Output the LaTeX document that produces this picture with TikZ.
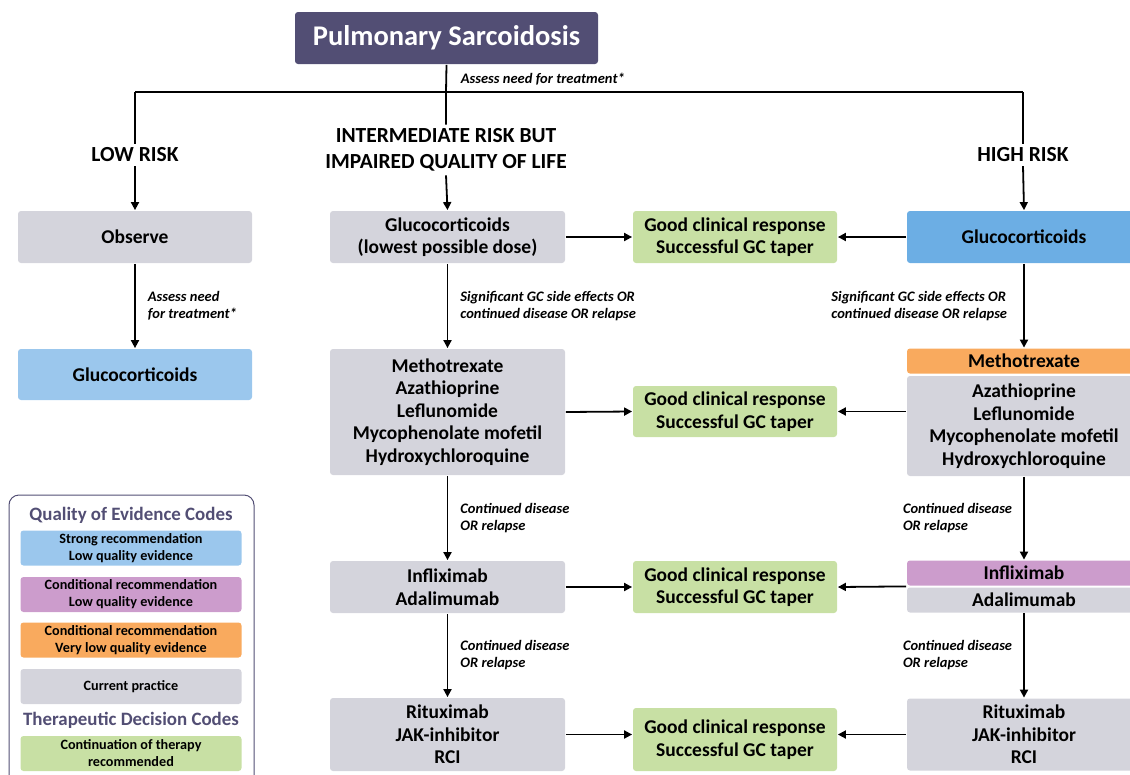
\documentclass[tikz,border=0pt]{standalone}
\usepackage{fontspec}
\setmainfont{Carlito}
\usepackage{tikz}
\usetikzlibrary{positioning}
\usetikzlibrary{arrows.meta}
\definecolor{Plum}{RGB}{82,78,116}
\definecolor{Grey}{RGB}{212,212,220}
\definecolor{Green}{RGB}{200,224,164}
\definecolor{BlueHi}{RGB}{108,174,228}
\definecolor{BlueLo}{RGB}{155,199,237}
\definecolor{Orange}{RGB}{249,170,94}
\definecolor{Purple}{RGB}{204,156,204}
\def \boxfont{\bfseries\fontsize{19.5}{22.5}\selectfont}
\def \labfont{\bfseries\itshape\fontsize{14.5}{17}\selectfont}
\def \legfont{\bfseries\fontsize{14.2}{17}\selectfont}
\tikzset{
every picture/.style={line width=1.8pt},
greybox/.style={rectangle, rounded corners=3pt, fill=Grey, minimum width=235pt, minimum height=52pt, align=center, font=\boxfont, inner sep=0pt},
goodbox/.style={greybox, fill=Green, minimum width=204pt},
riskhead/.style={align=center, font=\bfseries\fontsize{21.5}{26}\selectfont, inner sep=3pt},
lab/.style={align=left, font=\labfont, inner sep=0pt},
legbox/.style={rectangle, rounded corners=3pt, minimum width=221pt, minimum height=35pt, align=center, font=\legfont, inner sep=0pt},
legtitle/.style={text=Plum, font=\bfseries\fontsize{18.9}{20}\selectfont, inner sep=0pt},
arr/.style={-{Triangle[length=8pt,width=8pt]}}
}

\begin{document}
\begin{tikzpicture}[x=1pt, y=-1pt]
\useasboundingbox (0,0) rectangle (1130,774);
%Nodes
\node [rectangle, rounded corners=3pt, fill=Plum, text=white, font=\bfseries\fontsize{28.5}{30}\selectfont, minimum width=303pt, minimum height=52pt] (PS) at (446.5,38) {Pulmonary Sarcoidosis};
\coordinate (split) at (446,92);
\coordinate (lowc) at (135,92);
\coordinate (highc) at (1023,92);
\node [lab, anchor=south west] (assess) at (460,86) {Assess need for treatment*};
\node [riskhead] (low) at (135,155) {LOW RISK};
\node [riskhead] (mid) at (446,150) {INTERMEDIATE RISK BUT\\IMPAIRED QUALITY OF LIFE};
\node [riskhead] (high) at (1023,155) {HIGH RISK};

\node [greybox, minimum width=234pt] (observe) at (135,237) {Observe};
\node [greybox, fill=BlueLo, minimum width=234pt, minimum height=51pt] (lowGC) at (135,374.5) {Glucocorticoids};

\node [greybox] (midGC) at (447.5,237) {Glucocorticoids\\(lowest possible dose)};
\node [greybox, minimum height=126pt] (midDM) at (447.5,412) {Methotrexate\\Azathioprine\\Leflunomide\\Mycophenolate mofetil\\Hydroxychloroquine};
\node [greybox] (midTNF) at (447.5,587) {Infliximab\\Adalimumab};
\node [greybox, minimum height=73pt] (midRTX) at (447.5,734.5) {Rituximab\\JAK-inhibitor\\RCI};

\node [goodbox] (good1) at (735,237) {Good clinical response\\Successful GC taper};
\node [goodbox, minimum height=51pt] (good2) at (735,411.5) {Good clinical response\\Successful GC taper};
\node [goodbox] (good3) at (735,587) {Good clinical response\\Successful GC taper};
\node [goodbox, minimum height=63pt] (good4) at (735,739.5) {Good clinical response\\Successful GC taper};

\node [greybox, fill=BlueHi, minimum width=234pt] (highGC) at (1024,237) {Glucocorticoids};
\node [greybox, fill=Orange, minimum width=234pt, minimum height=25pt] (highMTX) at (1024,361) {Methotrexate};
\node [greybox, minimum width=234pt, minimum height=100pt] (highDM) at (1024,426) {Azathioprine\\Leflunomide\\Mycophenolate mofetil\\Hydroxychloroquine};
\node [greybox, fill=Purple, minimum width=234pt, minimum height=25pt] (highIFX) at (1024,573) {Infliximab};
\node [greybox, minimum width=234pt, minimum height=25pt] (highADA) at (1024,600) {Adalimumab};
\node [greybox, minimum width=234pt, minimum height=72pt] (highRTX) at (1024,734.5) {Rituximab\\JAK-inhibitor\\RCI};

%Legend
\draw [Plum, line width=1pt, rounded corners=10pt] (9,495) rectangle (254,790);
\node [legtitle] (qual) at (131,515) {Quality of Evidence Codes};
\node [legbox, fill=BlueLo] (legStrong) at (131,548) {Strong recommendation\\Low quality evidence};
\node [legbox, fill=Purple] (legCond) at (131,594.5) {Conditional recommendation\\Low quality evidence};
\node [legbox, fill=Orange] (legVlow) at (131,640) {Conditional recommendation\\Very low quality evidence};
\node [legbox, fill=Grey] (legCur) at (131,686.5) {Current practice};
\node [legtitle] (ther) at (131,720) {Therapeutic Decision Codes};
\node [legbox, fill=Green] (legCont) at (131,753.5) {Continuation of therapy\\recommended};

%Lines
\draw (PS.south) -- (split) -- (mid.north);
\draw (lowc) -- (highc);
\draw (lowc) -- (low.north);
\draw (highc) -- (high.north);
\draw [arr] (low.south) -- (observe.north);
\draw [arr] (mid.south) -- (midGC.north);
\draw [arr] (high.south) -- (highGC.north);

\draw [arr] (observe.south) -- node[lab, right=12pt] {Assess need\\for treatment*} (lowGC.north);
\draw [arr] (midGC.south) -- node[lab, right=12pt] {Significant GC side effects OR\\continued disease OR relapse} (midDM.north);
\draw [arr] (midDM.south) -- node[lab, right=12pt] {Continued disease\\OR relapse} (midTNF.north);
\draw [arr] (midTNF.south) -- node[lab, right=12pt] {Continued disease\\OR relapse} (midRTX.north);
\draw [arr] (highGC.south) -- node[lab, left=16pt] {Significant GC side effects OR\\continued disease OR relapse} (highMTX.north);
\draw [arr] (highDM.south) -- node[lab, left=11pt] {Continued disease\\OR relapse} (highIFX.north);
\draw [arr] (highADA.south) -- node[lab, left=11pt] {Continued disease\\OR relapse} (highRTX.north);

\draw [arr] (midGC.east) -- (good1.west);
\draw [arr] (midDM.east) -- (good2.west);
\draw [arr] (midTNF.east) -- (good3.west);
\draw [arr] (midRTX.east) -- (good4.west |- midRTX.east);
\draw [arr] (highGC.west) -- (good1.east);
\draw [arr] (highDM.west |- good2.east) -- (good2.east);
\draw [arr] (highIFX.south west) -- (good3.east);
\draw [arr] (highRTX.west) -- (good4.east |- highRTX.west);

\end{tikzpicture}
\end{document}
